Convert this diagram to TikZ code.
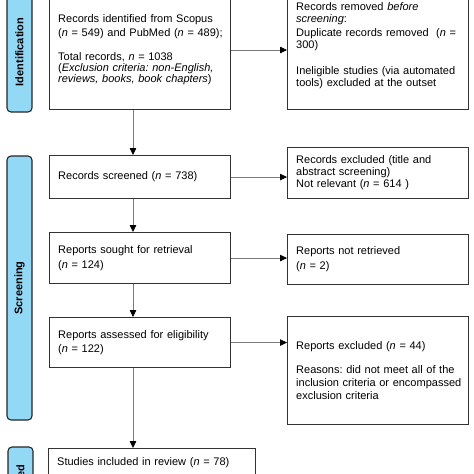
\documentclass[tikz,border=0pt]{standalone}
\usepackage{fontspec}
\setmainfont{Liberation Sans}
\usetikzlibrary{arrows.meta,positioning,calc}
\definecolor{barblue}{HTML}{93D8F5}
\definecolor{boxline}{HTML}{333333}
\definecolor{arrline}{HTML}{7A7A7A}
\frenchspacing
\begin{document}
\begin{tikzpicture}[x=1pt,y=-1pt,
  every node/.style={font=\fontsize{11}{13}\selectfont},
  flowbox/.style={draw=boxline,line width=1.1pt,fill=white,inner sep=0pt,anchor=north west},
  boxtext/.style={align=left,anchor=west,inner sep=0pt,text width=200pt},
  phasebar/.style={draw=black!85,line width=1.1pt,fill=barblue,rounded corners=4pt},
  phasetext/.style={font=\fontsize{11}{13}\selectfont\bfseries,rotate=90},
  flowarrow/.style={draw=arrline,line width=0.8pt,-{Triangle[length=7pt,width=6.5pt,black]}}
]
\useasboundingbox (0,0) rectangle (474,474);
\clip (0,0) rectangle (474,474);
\fill[white] (0,0) rectangle (474,474);

% phase bars
\draw[phasebar] (7,-8) rectangle (32,112);
\node[phasetext] (tid) at (19.5,52) {Identification};
\draw[phasebar] (7,156) rectangle (32,420);
\node[phasetext] (tsc) at (19.5,288) {Screening};
\draw[phasebar] (8,447) rectangle (33,523);
\node[phasetext] (tin) at (20.5,487) {Included};

% left boxes
\node[flowbox,minimum width=181pt,minimum height=119pt] (b1) at (49,-10) {};
\node[boxtext] (t1) at ($(b1.west)+(9,0)$)
 {Records identified from Scopus\\[1pt](\textit{n} = 549) and PubMed (\textit{n} = 489);\\[11pt]
  Total records, \textit{n} = 1038\\[-2pt]
  (\textit{Exclusion criteria: non-English,}\\[-2pt]
  \textit{reviews, books, book chapters})};
\node[flowbox,minimum width=181pt,minimum height=43pt] (b2) at (49,155) {};
\node[boxtext] (t2) at ($(b2.west)+(9,0)$) {Records screened (\textit{n} = 738)};
\node[flowbox,minimum width=181pt,minimum height=51pt] (b3) at (49,232) {};
\node[boxtext] (t3) at ($(b3.west)+(9,0)$) {Reports sought for retrieval\\[2pt](\textit{n} = 124)};
\node[flowbox,minimum width=181pt,minimum height=50pt] (b4) at (49,317) {};
\node[boxtext] (t4) at ($(b4.west)+(9,0)$) {Reports assessed for eligibility\\[1pt](\textit{n} = 122)};
\node[flowbox,minimum width=207pt,minimum height=31pt] (b5) at (48,448) {};
\node[boxtext] (t5) at ($(b5.north west)+(9,15)$) {Studies included in review (\textit{n} = 78)};

% right boxes
\node[flowbox,minimum width=181pt,minimum height=127pt] (r1) at (287,-18) {};
\node[boxtext] (s1) at ($(r1.west)+(9,0)$)
 {Records removed \textit{before}\\[-1pt]\textit{screening}:\\[1pt]
  Duplicate records removed~~(\textit{n} =\\[-1pt]300)\\[13pt]
  Ineligible studies (via automated\\[-1pt]tools) excluded at the outset};
\node[flowbox,minimum width=181pt,minimum height=51pt] (r2) at (287,147) {};
\node[boxtext] (s2) at ($(r2.west)+(9,0)$)
 {Records excluded (title and\\[-1pt]abstract screening)\\[-1pt]Not relevant (\textit{n} = 614 )};
\node[flowbox,minimum width=181pt,minimum height=50pt] (r3) at (287,234) {};
\node[boxtext] (s3) at ($(r3.west)+(9,0)$) {Reports not retrieved\\[2pt](\textit{n} = 2)};
\node[flowbox,minimum width=181pt,minimum height=108pt] (r4) at (287,316) {};
\node[boxtext] (s4) at ($(r4.west)+(9,0)$)
 {Reports excluded (\textit{n} = 44)\\[11pt]
  Reasons: did not meet all of the\\inclusion criteria or encompassed\\exclusion criteria};

% arrows
\coordinate (ax) at (133,0);
\coordinate (ay) at (0,50);
\draw[flowarrow] (b1.south -| ax) -- (b2.north -| ax);
\draw[flowarrow] (b2.south -| ax) -- (b3.north -| ax);
\draw[flowarrow] (b3.south -| ax) -- (b4.north -| ax);
\draw[flowarrow] (b4.south -| ax) -- (b5.north -| ax);
\draw[flowarrow] (b1.east |- ay) -- (r1.west |- ay);
\draw[flowarrow] (b2.east) -- (r2.west |- b2.east);
\draw[flowarrow] (b3.east) -- (r3.west |- b3.east);
\draw[flowarrow] (b4.east) -- (r4.west |- b4.east);
\end{tikzpicture}
\end{document}
